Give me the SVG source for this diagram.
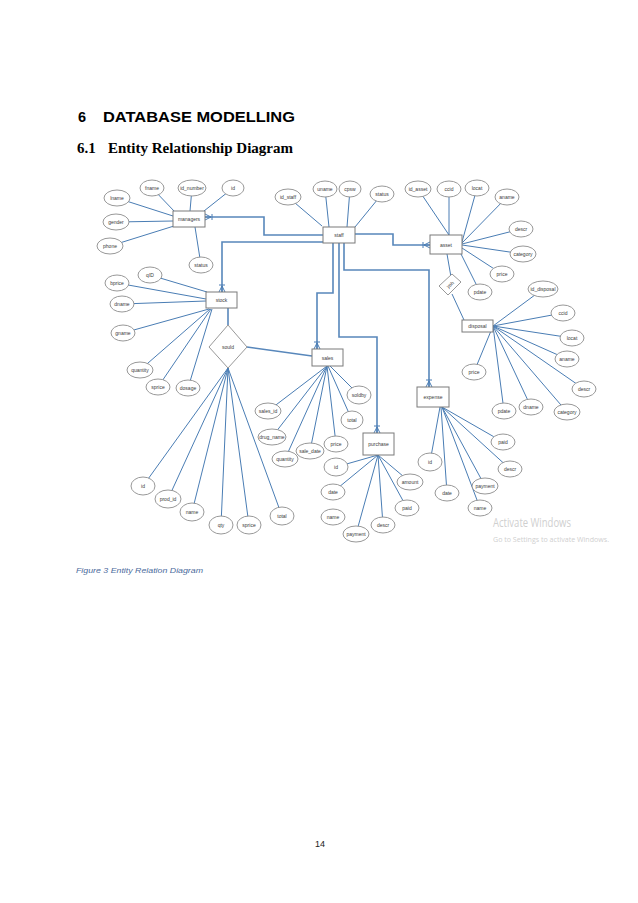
<svg xmlns="http://www.w3.org/2000/svg" width="638" height="903" viewBox="0 0 638 903">
<style>
.ent rect{fill:#fff;stroke:#7a7a7a;stroke-width:1}
.att ellipse{fill:#fff;stroke:#8c8c8c;stroke-width:0.9}
.rel polygon{fill:#fff;stroke:#8c8c8c;stroke-width:0.9}
.t{font-family:"Liberation Sans",Arial,sans-serif;font-size:5px;fill:#3a3a3a;text-anchor:middle;dominant-baseline:central}
.al{stroke:#4a7db4;stroke-width:1;fill:none}
.rl{stroke:#5887bb;stroke-width:1.6;fill:none}
.h1{font-family:"Liberation Sans",Arial,sans-serif;font-weight:bold;font-size:14.5px;fill:#000}
.h2{font-family:"Liberation Serif","Times New Roman",serif;font-weight:bold;font-size:15px;fill:#000}
</style>
<defs>
<marker id="cf" markerUnits="userSpaceOnUse" markerWidth="14" markerHeight="10" viewBox="-9 -5 10 10" refX="0" refY="0" orient="auto">
<path d="M-6,0 L0,-3 M-6,0 L0,3 M-6,0 L0,0 M-7,-3 L-7,3" stroke="#4a7db4" stroke-width="1" fill="none"/>
</marker>
</defs>
<rect width="638" height="903" fill="#fff"/>
<text class="h1" x="78" y="122">6</text>
<text class="h1" x="103" y="122" textLength="192" lengthAdjust="spacingAndGlyphs">DATABASE  MODELLING</text>
<text class="h2" x="77" y="153">6.1</text>
<text class="h2" x="108" y="153" textLength="185" lengthAdjust="spacingAndGlyphs">Entity Relationship Diagram</text>

<g id="connectors">
<polyline class="rl" points="323,235 264,235 264,217 205,217" marker-end="url(#cf)"/>
<polyline class="rl" points="323,242 222,242 222,292" marker-end="url(#cf)"/>
<polyline class="rl" points="355,234 393,234 393,245 430,245" marker-end="url(#cf)"/>
<polyline class="rl" points="333,243 333,293 317,293 317,349" marker-end="url(#cf)"/>
<polyline class="rl" points="339,243 339,337 377,337 377,433" marker-end="url(#cf)"/>
<polyline class="rl" points="344,243 344,270 429,270 429,387" marker-end="url(#cf)"/>
<line class="rl" x1="228" y1="308" x2="228" y2="325"/>
<line class="rl" x1="247" y1="347" x2="312" y2="356"/>
<line class="al" x1="447" y1="254" x2="451" y2="277"/>
<line class="al" x1="452" y1="294" x2="464" y2="320"/>
<g>
<line class="al" x1="175" y1="212" x2="152" y2="188"/>
<line class="al" x1="190" y1="211" x2="192" y2="188"/>
<line class="al" x1="204" y1="211" x2="233" y2="188"/>
<line class="al" x1="173" y1="216" x2="117" y2="198"/>
<line class="al" x1="173" y1="221" x2="116" y2="222"/>
<line class="al" x1="174" y1="226" x2="110" y2="246"/>
<line class="al" x1="195" y1="227" x2="201" y2="265"/>
<line class="al" x1="322" y1="226" x2="288" y2="197"/>
<line class="al" x1="329" y1="227" x2="325" y2="189"/>
<line class="al" x1="347" y1="227" x2="350" y2="189"/>
<line class="al" x1="355" y1="227" x2="382" y2="194"/>
<line class="al" x1="449" y1="235" x2="418" y2="189"/>
<line class="al" x1="449" y1="235" x2="449" y2="189"/>
<line class="al" x1="462" y1="242" x2="477" y2="188"/>
<line class="al" x1="462" y1="243" x2="507" y2="197"/>
<line class="al" x1="462" y1="244" x2="521" y2="229"/>
<line class="al" x1="462" y1="245" x2="523" y2="254"/>
<line class="al" x1="462" y1="248" x2="502" y2="274"/>
<line class="al" x1="461" y1="254" x2="480" y2="292"/>
<line class="al" x1="207" y1="292" x2="150" y2="275"/>
<line class="al" x1="206" y1="299" x2="117" y2="283"/>
<line class="al" x1="206" y1="301" x2="122" y2="304"/>
<line class="al" x1="209" y1="309" x2="123" y2="333"/>
<line class="al" x1="210" y1="309" x2="140" y2="370"/>
<line class="al" x1="211" y1="309" x2="158" y2="387"/>
<line class="al" x1="212" y1="309" x2="188" y2="388"/>
<line class="al" x1="228" y1="368" x2="143" y2="486"/>
<line class="al" x1="228" y1="368" x2="168" y2="499"/>
<line class="al" x1="228" y1="368" x2="192" y2="512"/>
<line class="al" x1="228" y1="368" x2="221" y2="525"/>
<line class="al" x1="228" y1="368" x2="249" y2="525"/>
<line class="al" x1="228" y1="368" x2="282" y2="516"/>
<line class="al" x1="330" y1="366" x2="359" y2="395"/>
<line class="al" x1="328" y1="366" x2="352" y2="420"/>
<line class="al" x1="327" y1="366" x2="268" y2="411"/>
<line class="al" x1="327" y1="366" x2="272" y2="437"/>
<line class="al" x1="327" y1="366" x2="285" y2="459"/>
<line class="al" x1="327" y1="366" x2="310" y2="451"/>
<line class="al" x1="327" y1="366" x2="336" y2="444"/>
<line class="al" x1="378" y1="455" x2="336" y2="467"/>
<line class="al" x1="378" y1="455" x2="333" y2="492"/>
<line class="al" x1="378" y1="455" x2="356" y2="534"/>
<line class="al" x1="378" y1="455" x2="383" y2="525"/>
<line class="al" x1="378" y1="455" x2="407" y2="508"/>
<line class="al" x1="378" y1="455" x2="410" y2="482"/>
<line class="al" x1="440" y1="407" x2="430" y2="462"/>
<line class="al" x1="441" y1="407" x2="447" y2="493"/>
<line class="al" x1="442" y1="407" x2="480" y2="508"/>
<line class="al" x1="442" y1="407" x2="485" y2="486"/>
<line class="al" x1="442" y1="407" x2="510" y2="469"/>
<line class="al" x1="442" y1="407" x2="503" y2="442"/>
<line class="al" x1="493" y1="326" x2="543" y2="289"/>
<line class="al" x1="493" y1="326" x2="563" y2="313"/>
<line class="al" x1="493" y1="326" x2="572" y2="338"/>
<line class="al" x1="493" y1="326" x2="567" y2="359"/>
<line class="al" x1="493" y1="326" x2="584" y2="389"/>
<line class="al" x1="493" y1="326" x2="567" y2="412"/>
<line class="al" x1="493" y1="326" x2="531" y2="407"/>
<line class="al" x1="493" y1="326" x2="504" y2="411"/>
<line class="al" x1="493" y1="326" x2="474" y2="372"/>
</g>
</g>

<g id="managers" class="ent"><rect x="173" y="211" width="32" height="16"/><text class="t" x="189" y="219">managers</text></g>
<g id="staff" class="ent"><rect x="323" y="227" width="32" height="16"/><text class="t" x="339" y="235">staff</text></g>
<g id="asset" class="ent"><rect x="430" y="235" width="32" height="19"/><text class="t" x="446" y="245">asset</text></g>
<g id="stock" class="ent"><rect x="206" y="292" width="31" height="16"/><text class="t" x="221.5" y="300">stock</text></g>
<g id="sales" class="ent"><rect x="312" y="349" width="31" height="17"/><text class="t" x="327.5" y="357.5">sales</text></g>
<g id="purchase" class="ent"><rect x="363" y="433" width="31" height="22"/><text class="t" x="378.5" y="444">purchase</text></g>
<g id="expense" class="ent"><rect x="417" y="387" width="32" height="20"/><text class="t" x="433" y="397">expense</text></g>
<g id="disposal" class="ent"><rect x="462" y="320" width="31" height="12"/><text class="t" x="477.5" y="326">disposal</text></g>

<g id="sould" class="rel"><polygon points="228,325 247,347 228,368 209,347"/><text class="t" x="228" y="347">sould</text></g>
<g id="yoh" class="rel"><polygon points="439,286 452,274 461,282 448,295"/><text class="t" x="450" y="284.5" transform="rotate(-40 450 284.5)">yoh</text></g>

<g id="managers-attrs" class="att">
<g id="m-fname"><ellipse cx="152" cy="188" rx="12" ry="8"/><text class="t" x="152" y="188">fname</text></g>
<g id="m-id_number"><ellipse cx="192" cy="188" rx="14" ry="8"/><text class="t" x="192" y="188">id_number</text></g>
<g id="m-id"><ellipse cx="233" cy="188" rx="11" ry="8"/><text class="t" x="233" y="188">id</text></g>
<g id="m-lname"><ellipse cx="117" cy="198" rx="13" ry="8"/><text class="t" x="117" y="198">lname</text></g>
<g id="m-gender"><ellipse cx="116" cy="222" rx="13" ry="8"/><text class="t" x="116" y="222">gender</text></g>
<g id="m-phone"><ellipse cx="110" cy="246" rx="13" ry="8"/><text class="t" x="110" y="246">phone</text></g>
<g id="m-status"><ellipse cx="201" cy="265" rx="12" ry="8"/><text class="t" x="201" y="265">status</text></g>
</g>
<g id="staff-attrs" class="att">
<g id="s-id_staff"><ellipse cx="288" cy="197" rx="13" ry="8"/><text class="t" x="288" y="197">id_staff</text></g>
<g id="s-uname"><ellipse cx="325" cy="189" rx="12" ry="8"/><text class="t" x="325" y="189">uname</text></g>
<g id="s-cpsw"><ellipse cx="350" cy="189" rx="11" ry="8"/><text class="t" x="350" y="189">cpsw</text></g>
<g id="s-status"><ellipse cx="382" cy="194" rx="12" ry="8"/><text class="t" x="382" y="194">status</text></g>
</g>
<g id="asset-attrs" class="att">
<g id="a-id_asset"><ellipse cx="418" cy="189" rx="13" ry="8"/><text class="t" x="418" y="189">id_asset</text></g>
<g id="a-ccid"><ellipse cx="449" cy="189" rx="12" ry="8"/><text class="t" x="449" y="189">ccid</text></g>
<g id="a-locat"><ellipse cx="477" cy="188" rx="12" ry="8"/><text class="t" x="477" y="188">locat</text></g>
<g id="a-aname"><ellipse cx="507" cy="197" rx="12" ry="8"/><text class="t" x="507" y="197">aname</text></g>
<g id="a-descr"><ellipse cx="521" cy="229" rx="12" ry="8"/><text class="t" x="521" y="229">descr</text></g>
<g id="a-category"><ellipse cx="523" cy="254" rx="13" ry="8"/><text class="t" x="523" y="254">category</text></g>
<g id="a-price"><ellipse cx="502" cy="274" rx="12" ry="8"/><text class="t" x="502" y="274">price</text></g>
<g id="a-pdate"><ellipse cx="480" cy="292" rx="12" ry="8"/><text class="t" x="480" y="292">pdate</text></g>
</g>
<g id="stock-attrs" class="att">
<g id="st-qID"><ellipse cx="150" cy="275" rx="12" ry="8"/><text class="t" x="150" y="275">qID</text></g>
<g id="st-bprice"><ellipse cx="117" cy="283" rx="12" ry="8"/><text class="t" x="117" y="283">bprice</text></g>
<g id="st-dname"><ellipse cx="122" cy="304" rx="12" ry="8"/><text class="t" x="122" y="304">dname</text></g>
<g id="st-gname"><ellipse cx="123" cy="333" rx="12" ry="8"/><text class="t" x="123" y="333">gname</text></g>
<g id="st-quantity"><ellipse cx="140" cy="370" rx="13" ry="8"/><text class="t" x="140" y="370">quantity</text></g>
<g id="st-sprice"><ellipse cx="158" cy="387" rx="12" ry="8"/><text class="t" x="158" y="387">sprice</text></g>
<g id="st-dosage"><ellipse cx="188" cy="388" rx="12" ry="8"/><text class="t" x="188" y="388">dosage</text></g>
</g>
<g id="sould-attrs" class="att">
<g id="so-id"><ellipse cx="143" cy="486" rx="12" ry="9"/><text class="t" x="143" y="486">id</text></g>
<g id="so-prod_id"><ellipse cx="168" cy="499" rx="13" ry="9"/><text class="t" x="168" y="499">prod_id</text></g>
<g id="so-name"><ellipse cx="192" cy="512" rx="12" ry="9"/><text class="t" x="192" y="512">name</text></g>
<g id="so-qty"><ellipse cx="221" cy="525" rx="12" ry="9"/><text class="t" x="221" y="525">qty</text></g>
<g id="so-sprice"><ellipse cx="249" cy="525" rx="12" ry="9"/><text class="t" x="249" y="525">sprice</text></g>
<g id="so-total"><ellipse cx="282" cy="516" rx="12" ry="9"/><text class="t" x="282" y="516">total</text></g>
</g>
<g id="sales-attrs" class="att">
<g id="sa-soldby"><ellipse cx="359" cy="395" rx="12" ry="9"/><text class="t" x="359" y="395">soldby</text></g>
<g id="sa-total"><ellipse cx="352" cy="420" rx="11" ry="9"/><text class="t" x="352" y="420">total</text></g>
<g id="sa-sales_id"><ellipse cx="268" cy="411" rx="13" ry="8"/><text class="t" x="268" y="411">sales_id</text></g>
<g id="sa-drug_name"><ellipse cx="272" cy="437" rx="14" ry="8"/><text class="t" x="272" y="437">drug_name</text></g>
<g id="sa-quantity"><ellipse cx="285" cy="459" rx="13" ry="8"/><text class="t" x="285" y="459">quantity</text></g>
<g id="sa-sale_date"><ellipse cx="310" cy="451" rx="14" ry="8"/><text class="t" x="310" y="451">sale_date</text></g>
<g id="sa-price"><ellipse cx="336" cy="444" rx="12" ry="8"/><text class="t" x="336" y="444">price</text></g>
</g>
<g id="purchase-attrs" class="att">
<g id="p-id"><ellipse cx="336" cy="467" rx="12" ry="9"/><text class="t" x="336" y="467">id</text></g>
<g id="p-date"><ellipse cx="333" cy="492" rx="12" ry="8"/><text class="t" x="333" y="492">date</text></g>
<g id="p-name"><ellipse cx="333" cy="517" rx="12" ry="8"/><text class="t" x="333" y="517">name</text></g>
<g id="p-payment"><ellipse cx="356" cy="534" rx="13" ry="8"/><text class="t" x="356" y="534">payment</text></g>
<g id="p-descr"><ellipse cx="383" cy="525" rx="12" ry="8"/><text class="t" x="383" y="525">descr</text></g>
<g id="p-paid"><ellipse cx="407" cy="508" rx="12" ry="8"/><text class="t" x="407" y="508">paid</text></g>
<g id="p-amount"><ellipse cx="410" cy="482" rx="13" ry="8"/><text class="t" x="410" y="482">amount</text></g>
</g>
<g id="expense-attrs" class="att">
<g id="e-id"><ellipse cx="430" cy="462" rx="12" ry="9"/><text class="t" x="430" y="462">id</text></g>
<g id="e-date"><ellipse cx="447" cy="493" rx="12" ry="8"/><text class="t" x="447" y="493">date</text></g>
<g id="e-name"><ellipse cx="480" cy="508" rx="12" ry="8"/><text class="t" x="480" y="508">name</text></g>
<g id="e-payment"><ellipse cx="485" cy="486" rx="13" ry="8"/><text class="t" x="485" y="486">payment</text></g>
<g id="e-descr"><ellipse cx="510" cy="469" rx="12" ry="8"/><text class="t" x="510" y="469">descr</text></g>
<g id="e-paid"><ellipse cx="503" cy="442" rx="12" ry="8"/><text class="t" x="503" y="442">paid</text></g>
</g>
<g id="disposal-attrs" class="att">
<g id="d-id_disposal"><ellipse cx="543" cy="289" rx="15" ry="8"/><text class="t" x="543" y="289">id_disposal</text></g>
<g id="d-ccid"><ellipse cx="563" cy="313" rx="12" ry="8"/><text class="t" x="563" y="313">ccid</text></g>
<g id="d-locat"><ellipse cx="572" cy="338" rx="12" ry="8"/><text class="t" x="572" y="338">locat</text></g>
<g id="d-aname"><ellipse cx="567" cy="359" rx="12" ry="8"/><text class="t" x="567" y="359">aname</text></g>
<g id="d-descr"><ellipse cx="584" cy="389" rx="12" ry="8"/><text class="t" x="584" y="389">descr</text></g>
<g id="d-category"><ellipse cx="567" cy="412" rx="13" ry="8"/><text class="t" x="567" y="412">category</text></g>
<g id="d-dname"><ellipse cx="531" cy="407" rx="12" ry="8"/><text class="t" x="531" y="407">dname</text></g>
<g id="d-pdate"><ellipse cx="504" cy="411" rx="12" ry="8"/><text class="t" x="504" y="411">pdate</text></g>
<g id="d-price"><ellipse cx="474" cy="372" rx="12" ry="8"/><text class="t" x="474" y="372">price</text></g>
</g>

<text x="493" y="527" font-family="'Open Sans','Liberation Sans',sans-serif" font-size="12" fill="#cfcfcf" textLength="78" lengthAdjust="spacingAndGlyphs">Activate Windows</text>
<text x="493" y="542" font-family="'Open Sans','Liberation Sans',sans-serif" font-size="7.5" fill="#cfcfcf" textLength="116" lengthAdjust="spacingAndGlyphs">Go to Settings to activate Windows.</text>

<text x="76" y="573" font-family="'Liberation Sans',Arial,sans-serif" font-style="italic" font-weight="normal" font-size="7.5" fill="#4a6a9c" textLength="127" lengthAdjust="spacingAndGlyphs">Figure 3 Entity Relation Diagram</text>
<text x="320" y="847" font-family="'Liberation Sans',Arial,sans-serif" font-size="9" fill="#222" text-anchor="middle">14</text>
</svg>
